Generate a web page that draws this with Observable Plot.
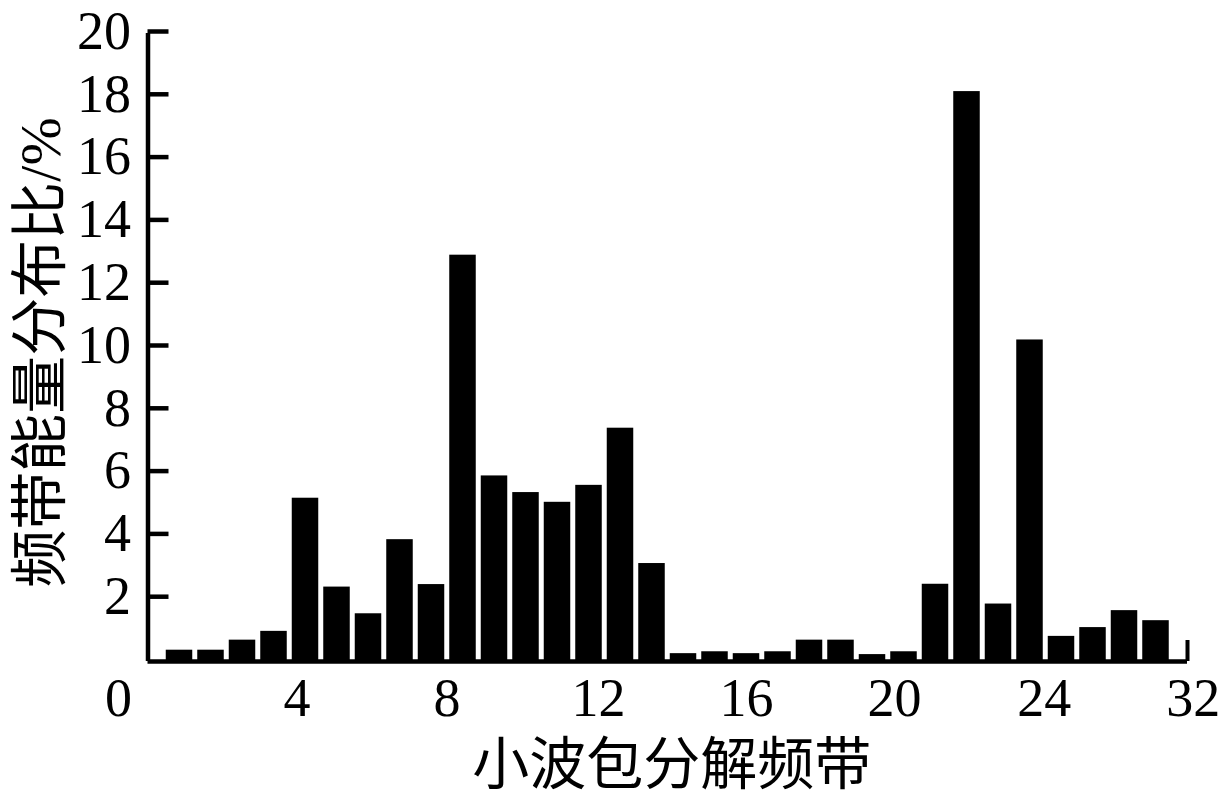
<!DOCTYPE html>
<html>
<head>
<meta charset="utf-8">
<script src="https://cdn.jsdelivr.net/npm/d3@7"></script>
<script src="https://cdn.jsdelivr.net/npm/@observablehq/plot@0.6"></script>
<style>
  html, body { margin: 0; padding: 0; background: #fff; }
  #chart svg { display: block; }
</style>
</head>
<body>
<div id="chart"></div>
<script>
// Wavelet packet decomposition bands (categories)
const bands = [1, 2, 3, 4, 5, 6, 7, 8, 9, 10, 11, 12, 13, 14, 15, 16,
               17, 18, 19, 20, 21, 22, 23, 24, 25, 26, 27, 28, 29, 30, 31, 32];
// Band energy share, %
const energy = [0.36, 0.36, 0.68, 0.96, 5.20, 2.37, 1.52, 3.88, 2.45, 12.94, 5.91, 5.38, 5.07, 5.61, 7.43, 3.12,
                0.25, 0.31, 0.25, 0.31, 0.68, 0.68, 0.22, 0.31, 2.46, 18.15, 1.83, 10.24, 0.80, 1.08, 1.62, 1.30];
// Y tick values
const yTicks = [2, 4, 6, 8, 10, 12, 14, 16, 18, 20];
// X tick labels as printed, and where the printed labels sit along the band axis
const xTickLabels = ["0", "4", "8", "12", "16", "20", "24", "32"];
const xTickAt = [-0.94, 4.73, 9.49, 14.30, 19.00, 23.70, 28.45, 33.18];

const xTitle = "小波包分解频带";
const yTitle = "频带能量分布比/%";

const data = bands.map((b, i) => ({band: b, energy: energy[i]}));
const labelAt = new Map(xTickAt.map((p, i) => [p, xTickLabels[i]]));

const numFont = "'Liberation Serif', 'Times New Roman', serif";
const cjkFont = "'Liberation Serif', 'Noto Sans CJK SC', serif";

const chart = Plot.plot({
  width: 1223,
  height: 805,
  marginLeft: 147.5,
  marginRight: 36,
  marginTop: 33,
  marginBottom: 144,
  x: {domain: [0, 33]},
  y: {domain: [0, 20]},
  style: {background: "white", color: "black", fontFamily: numFont},
  marks: [
    Plot.rectY(data, {
      x1: d => d.band - 0.5,
      x2: d => d.band + 0.5,
      y: "energy",
      fill: "black",
      insetLeft: 2.5,
      insetRight: 2.5
    }),
    Plot.ruleY([0], {stroke: "black", strokeWidth: 4.5}),
    Plot.ruleX([0], {stroke: "black", strokeWidth: 4.5}),
    Plot.axisY(yTicks, {
      tickSize: -21,
      tickPadding: 38,
      strokeWidth: 4.5,
      fontSize: 54,
      dy: -2,
      label: null
    }),
    Plot.axisX(xTickAt, {
      tickSize: 0,
      tickPadding: 16,
      fontSize: 54,
      tickFormat: d => labelAt.get(d),
      label: null
    }),
    Plot.axisX([33], {
      tickSize: -21,
      strokeWidth: 4,
      tickFormat: () => "",
      label: null
    }),
    Plot.text([xTitle], {
      frameAnchor: "bottom",
      dy: 104,
      dx: 4,
      fontSize: 57,
      fontFamily: cjkFont,
      textAnchor: "middle",
      lineAnchor: "middle"
    }),
    Plot.text([yTitle], {
      frameAnchor: "left",
      rotate: -90,
      dx: -107,
      dy: 5,
      fontSize: 58,
      fontFamily: cjkFont,
      textAnchor: "middle",
      lineAnchor: "middle"
    })
  ]
});

document.getElementById("chart").appendChild(chart);
</script>
</body>
</html>
